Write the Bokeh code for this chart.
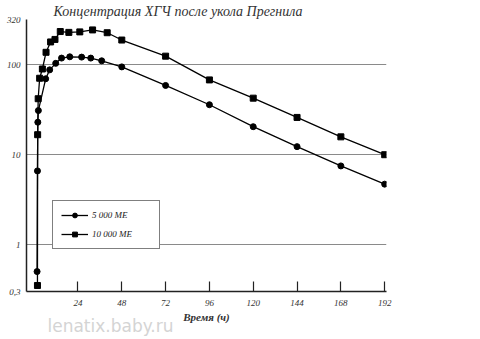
from bokeh.plotting import figure
from bokeh.models import FixedTicker, Range1d, Title
from bokeh.embed import file_html
from bokeh.resources import INLINE

chart_title = "Концентрация ХГЧ после укола Прегнила"
x_label = "Время (ч)"
series_names = ["5 000 МЕ", "10 000 МЕ"]

hours_5000 = [1.6, 1.8, 2.0, 2.3, 6.3, 8.5, 11.8, 15, 19.5, 26, 31, 37, 48, 72, 96, 120, 144, 168, 192]
hcg_5000 = [0.5, 6.6, 23, 31, 70, 88, 104, 119, 123, 122, 119, 111, 95, 59, 36, 20.5, 12.3, 7.5, 4.7]

hours_10000 = [1.8, 1.9, 2.2, 3.0, 4.5, 6.5, 9, 11.4, 14.3, 19, 25, 32, 40, 48, 72, 96, 120, 144, 168, 192]
hcg_10000 = [0.35, 16.7, 42, 71, 90, 138, 180, 192, 235, 230, 233, 245, 228, 189, 125, 68, 42.6, 26, 15.8, 10]

x_ticks = [24, 48, 72, 96, 120, 144, 168, 192]
y_ticks = [0.3, 1, 10, 100, 320]
y_tick_labels = ["0,3", "1", "10", "100", "320"]
grid_levels = [1, 10, 100, 320]

watermark = "lenatix.baby.ru"

SERIF = "Liberation Serif"

p = figure(width=480, height=339, y_axis_type="log",
           x_range=Range1d(-4.2, 193), y_range=Range1d(0.3, 320),
           output_backend="svg", toolbar_location=None,
           min_border_left=26, min_border_right=94,
           min_border_top=19, min_border_bottom=48,
           background_fill_color="white", border_fill_color="white")
p.outline_line_color = None

p.title.text = chart_title
p.title.text_font = SERIF
p.title.text_font_style = "italic"
p.title.text_font_size = "14px"
p.title.text_color = "#333333"
p.title.offset = 27
p.title.standoff = 1

# axes
p.xaxis.ticker = FixedTicker(ticks=x_ticks)
p.xaxis.minor_tick_line_color = None
p.xaxis.major_tick_in = 10
p.xaxis.major_tick_out = 0
p.xaxis.major_tick_line_color = "#222222"
p.xaxis.major_tick_line_width = 1.2
p.xaxis.axis_line_color = "#222222"
p.xaxis.axis_line_width = 1.5
p.xaxis.major_label_text_font = SERIF
p.xaxis.major_label_text_font_style = "italic"
p.xaxis.major_label_text_font_size = "9px"
p.xaxis.major_label_text_color = "#333333"
p.xaxis.major_label_standoff = 8
p.xaxis.axis_label = x_label
p.xaxis.axis_label_text_font = SERIF
p.xaxis.axis_label_text_font_style = "bold italic"
p.xaxis.axis_label_text_font_size = "11px"
p.xaxis.axis_label_text_color = "#333333"
p.xaxis.axis_label_standoff = 2

p.yaxis.ticker = FixedTicker(ticks=y_ticks)
p.yaxis.major_label_overrides = {t: l for t, l in zip(y_ticks, y_tick_labels)}
p.yaxis.minor_tick_line_color = None
p.yaxis.major_tick_line_color = None
p.yaxis.major_tick_in = 0
p.yaxis.major_tick_out = 0
p.yaxis.axis_line_color = "#222222"
p.yaxis.axis_line_width = 1.5
p.yaxis.major_label_text_font = SERIF
p.yaxis.major_label_text_font_style = "italic"
p.yaxis.major_label_text_font_size = "9px"
p.yaxis.major_label_text_color = "#333333"
p.yaxis.major_label_standoff = 6

p.xgrid.grid_line_color = None
p.ygrid.ticker = FixedTicker(ticks=grid_levels)
p.ygrid.grid_line_color = "#8a8a8a"
p.ygrid.grid_line_width = 1

# watermark as a title panel below the x axis, pulled up with a negative standoff
wm = Title(text=watermark, text_color="#d4d4d4", text_font="DejaVu Sans",
           text_font_size="17px", text_font_style="normal", align="left",
           offset=21, standoff=-20, vertical_align="top")
p.add_layout(wm, "below")

# series
p.line(hours_5000, hcg_5000, line_color="black", line_width=1.3, legend_label=series_names[0])
p.scatter(hours_5000, hcg_5000, marker="circle", size=6, fill_color="black", line_color="black",
          legend_label=series_names[0])
p.line(hours_10000, hcg_10000, line_color="black", line_width=1.3, legend_label=series_names[1])
p.scatter(hours_10000, hcg_10000, marker="square", size=6, fill_color="black", line_color="black",
          legend_label=series_names[1])

lg = p.legend[0]
lg.location = (26, 42)
lg.border_line_color = "black"
lg.border_line_width = 1
lg.background_fill_color = "white"
lg.background_fill_alpha = 1
lg.label_text_font = SERIF
lg.label_text_font_style = "italic"
lg.label_text_font_size = "9px"
lg.label_text_color = "#222222"
lg.glyph_width = 27
lg.glyph_height = 12
lg.padding = 8
lg.spacing = 7
lg.label_standoff = 4
lg.label_width = 59
lg.margin = 0

open("out.html", "w").write(file_html(p, INLINE))
